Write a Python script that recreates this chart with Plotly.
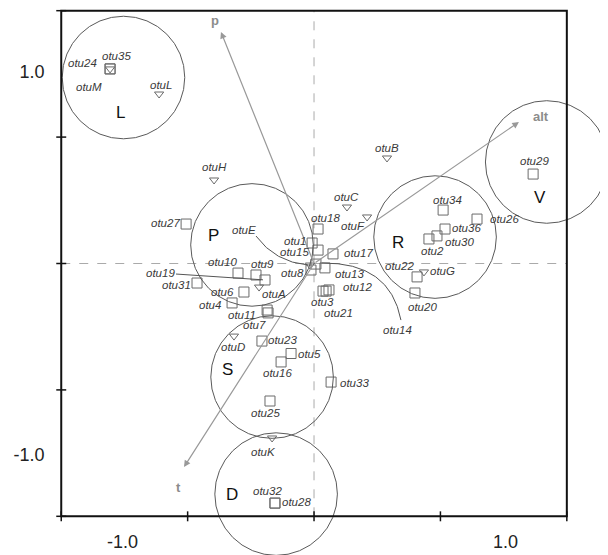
import plotly.graph_objects as go

# ---------------- data (ordination scores) ----------------
SITE_NAMES = ["otu1", "otu2", "otu3", "otu4", "otu5", "otu6", "otu7", "otu8", "otu9", "otu10",
              "otu11", "otu12", "otu13", "otu14", "otu15", "otu16", "otu17", "otu18", "otu19", "otu20",
              "otu21", "otu22", "otu23", "otu24", "otu25", "otu26", "otu27", "otu28", "otu29", "otu30",
              "otu31", "otu32", "otu33", "otu34", "otu35", "otu36"]
SITE_X = [-0.010, 0.600, 0.047, -0.428, -0.120, -0.366, -0.240, -0.016, -0.303, -0.397,
          -0.245, 0.078, 0.057, 0.010, 0.021, -0.172, 0.099, 0.021, -0.256, 0.527,
          0.063, 0.538, -0.272, -1.065, -0.230, 0.851, -0.668, -0.204, 1.144, 0.642,
          -0.611, -0.204, 0.089, 0.674, -1.065, 0.684]
SITE_Y = [0.107, 0.128, -0.144, -0.206, -0.470, -0.149, -0.258, -0.034, -0.060, -0.050,
          -0.243, -0.138, -0.023, -0.003, 0.070, -0.514, 0.050, 0.180, -0.086, -0.154,
          -0.144, -0.070, -0.405, 1.016, -0.718, 0.232, 0.206, -1.251, 0.467, 0.144,
          -0.102, -1.251, -0.619, 0.279, 1.016, 0.180]

SPEC_NAMES = ["otuA", "otuB", "otuC", "otuD", "otuE", "otuF", "otuG", "otuH", "otuK", "otuL", "otuM"]
SPEC_X = [-0.287, 0.381, 0.172, -0.418, -0.021, 0.277, 0.574, -0.522, -0.219, -0.809, -1.065]
SPEC_Y = [-0.123, 0.551, 0.295, -0.379, -0.008, 0.243, -0.044, 0.436, -0.911, 0.885, 1.016]

ENV_NAMES = ["p", "t", "alt"]
ENV_X = [-0.486, -0.679, 1.070]
ENV_Y = [1.209, -1.063, 0.739]

GROUP_NAMES = ["L", "P", "R", "V", "S", "D"]
GROUP_X = [-0.995, -0.324, 0.632, 1.215, -0.219, -0.198]
GROUP_Y = [0.971, 0.097, 0.138, 0.530, -0.593, -1.204]
GROUP_R = [0.32, 0.32, 0.32, 0.32, 0.32, 0.32]
GROUP_LABEL_X = [-1.013, -0.527, 0.439, 1.180, -0.454, -0.428]
GROUP_LABEL_Y = [0.786, 0.144, 0.112, 0.342, -0.556, -1.204]

AXIS_LIMIT = 1.32
TICK_POS = [-1.32, -0.66, 0.0, 0.66, 1.32]
TICK_LABEL_VALS = [-1.0, 1.0]
TICK_LABEL_TEXT = ["-1.0", "1.0"]

# ---------------- styling (pixel offsets of labels, y up) ----------------
LABEL_OFFSETS = {
    "otu1": (-17, 2), "otu15": (-24, -2), "otu18": (7, 11), "otu17": (26, 1),
    "otuC": (0, 10), "otuF": (-14, -9), "otuB": (0, 10), "otu34": (4, 10),
    "otu36": (21, 1), "otu30": (23, -6), "otu2": (4, -12), "otu26": (27, 0),
    "otu29": (1, 13), "otu22": (-18, 11), "otuG": (19, 1), "otu20": (8, -14),
    "otu13": (25, -6), "otu12": (29, 3), "otu3": (-1, -11), "otu21": (12, -22),
    "otu8": (-18, -3), "otu27": (-21, 1), "otuH": (0, 13), "otu10": (-16, 11),
    "otu9": (6, 11), "otu31": (-21, -2), "otu6": (-21, 0), "otuA": (15, -7),
    "otu4": (-22, -2), "otu11": (-25, -5), "otu7": (-14, -12), "otuD": (-1, -11),
    "otu23": (21, 1), "otu5": (18, 0), "otu16": (-4, -11), "otu33": (23, -1),
    "otu25": (-4, -12), "otuK": (-9, -14), "otu32": (-7, 12), "otu28": (22, 1),
    "otu24": (-28, 6), "otu35": (6, 13), "otuM": (-21, -18), "otuL": (2, 9),
    "otuE": (-66, 35), "otu14": (82, -66),
}
# curved leader lines: start, control, end offsets (px, y up) from the point
CURVED_LEADERS = {"otuE": [(-54, 29), (-35, 3), (-2, 0)],
                  "otu14": [(85, -56), (74, 2), (6, 1)]}
# straight leader line: (ax, ay) in pixels (y down)
STRAIGHT_LEADERS = {"otu19": (-105, -7)}
ENV_LABEL_OFFSETS = {"p": (-6, 11), "t": (-6, -20), "alt": (22, 5)}

# the page body has an 8px margin: the figure is sized/ranged so the frame lands as in the reference
FIG_W, FIG_H = 600, 547
XRANGE = [-1.598, 1.535]
YRANGE = [-1.522, 1.334]
PX_X = (XRANGE[1] - XRANGE[0]) / FIG_W
PX_Y = (YRANGE[1] - YRANGE[0]) / FIG_H

GRAY = "#6a6a6a"
TXT = "#3a3a3a"
FONT = "Liberation Sans, Arial, sans-serif"

fig = go.Figure()

# group circles
for cx, cy, r in zip(GROUP_X, GROUP_Y, GROUP_R):
    fig.add_shape(type="circle", xref="x", yref="y", x0=cx - r, x1=cx + r, y0=cy - r, y1=cy + r,
                  line=dict(color="#5a5a5a", width=1), layer="above")

# frame and dashed zero lines
fig.add_shape(type="line", x0=0, x1=0, y0=-AXIS_LIMIT, y1=AXIS_LIMIT,
              line=dict(color="#aaaaaa", width=1, dash="dash"), layer="below")
fig.add_shape(type="line", x0=-AXIS_LIMIT, x1=AXIS_LIMIT, y0=0, y1=0,
              line=dict(color="#aaaaaa", width=1, dash="dash"), layer="below")
fig.add_shape(type="rect", x0=-AXIS_LIMIT, x1=AXIS_LIMIT, y0=-AXIS_LIMIT, y1=AXIS_LIMIT,
              line=dict(color="#111111", width=2), layer="above")
d = 0.026
for t in TICK_POS:
    fig.add_shape(type="line", x0=t, x1=t, y0=-AXIS_LIMIT - d, y1=-AXIS_LIMIT + d,
                  line=dict(color="#111111", width=1.5))
    fig.add_shape(type="line", x0=-AXIS_LIMIT - d, x1=-AXIS_LIMIT + d, y0=t, y1=t,
                  line=dict(color="#111111", width=1.5))

# environmental arrows
for name, ex, ey in zip(ENV_NAMES, ENV_X, ENV_Y):
    fig.add_annotation(x=ex, y=ey, ax=0, ay=0, axref="x", ayref="y", xref="x", yref="y",
                       text="", showarrow=True, arrowhead=2, arrowsize=1.1, arrowwidth=1.2,
                       arrowcolor="#999999")
    dx, dy = ENV_LABEL_OFFSETS[name]
    fig.add_annotation(x=ex, y=ey, text="<b>" + name + "</b>", showarrow=False,
                       xshift=dx, yshift=dy, font=dict(family=FONT, size=13, color="#8c8c8c"))

# site (square) and species (triangle) markers
fig.add_trace(go.Scatter(x=SITE_X, y=SITE_Y, mode="markers", hoverinfo="text", text=SITE_NAMES,
                         marker=dict(symbol="square-open", size=10, color=GRAY, line=dict(width=1))))
fig.add_trace(go.Scatter(x=SPEC_X, y=SPEC_Y, mode="markers", hoverinfo="text", text=SPEC_NAMES,
                         marker=dict(symbol="triangle-down-open", size=8, color=GRAY, line=dict(width=1))))


def off(x, y, o):
    return x + o[0] * PX_X, y + o[1] * PX_Y


# point labels
for names, xs, ys in ((SITE_NAMES, SITE_X, SITE_Y), (SPEC_NAMES, SPEC_X, SPEC_Y)):
    for n, x, y in zip(names, xs, ys):
        if n in STRAIGHT_LEADERS:
            ax, ay = STRAIGHT_LEADERS[n]
            fig.add_annotation(x=x, y=y, text="<i>" + n + "</i>", showarrow=True, ax=ax, ay=ay,
                               arrowhead=0, arrowwidth=1, arrowcolor="#555555", standoff=2,
                               font=dict(family=FONT, size=11.5, color=TXT))
            continue
        dx, dy = LABEL_OFFSETS[n]
        fig.add_annotation(x=x, y=y, text="<i>" + n + "</i>", showarrow=False,
                           xshift=dx, yshift=dy, font=dict(family=FONT, size=11.5, color=TXT))
        if n in CURVED_LEADERS:
            (sx, sy), (qx, qy), (exx, eyy) = [off(x, y, o) for o in CURVED_LEADERS[n]]
            fig.add_shape(type="path", xref="x", yref="y",
                          path=f"M {sx},{sy} Q {qx},{qy} {exx},{eyy}",
                          line=dict(color="#555555", width=1))

# group letters
for g, gx, gy in zip(GROUP_NAMES, GROUP_LABEL_X, GROUP_LABEL_Y):
    fig.add_annotation(x=gx, y=gy, text=g, showarrow=False,
                       font=dict(family=FONT, size=17, color="#111111"))

xpos = (-AXIS_LIMIT - YRANGE[0]) / (YRANGE[1] - YRANGE[0])
ypos = (-AXIS_LIMIT - XRANGE[0]) / (XRANGE[1] - XRANGE[0])

fig.update_layout(
    width=FIG_W, height=FIG_H, margin=dict(l=0, r=0, t=0, b=0, pad=0),
    paper_bgcolor="white", plot_bgcolor="white", showlegend=False,
    xaxis=dict(range=XRANGE, anchor="free", position=xpos, showgrid=False, zeroline=False,
               showline=False, tickmode="array", tickvals=TICK_LABEL_VALS, ticktext=TICK_LABEL_TEXT,
               ticks="outside", ticklen=9, tickcolor="rgba(0,0,0,0)",
               tickfont=dict(family=FONT, size=18, color="#222222"), fixedrange=True),
    yaxis=dict(range=YRANGE, anchor="free", position=ypos, showgrid=False, zeroline=False,
               showline=False, tickmode="array", tickvals=TICK_LABEL_VALS, ticktext=TICK_LABEL_TEXT,
               ticks="outside", ticklen=13, tickcolor="rgba(0,0,0,0)",
               tickfont=dict(family=FONT, size=18, color="#222222"), fixedrange=True),
)

fig.write_html("out.html")
